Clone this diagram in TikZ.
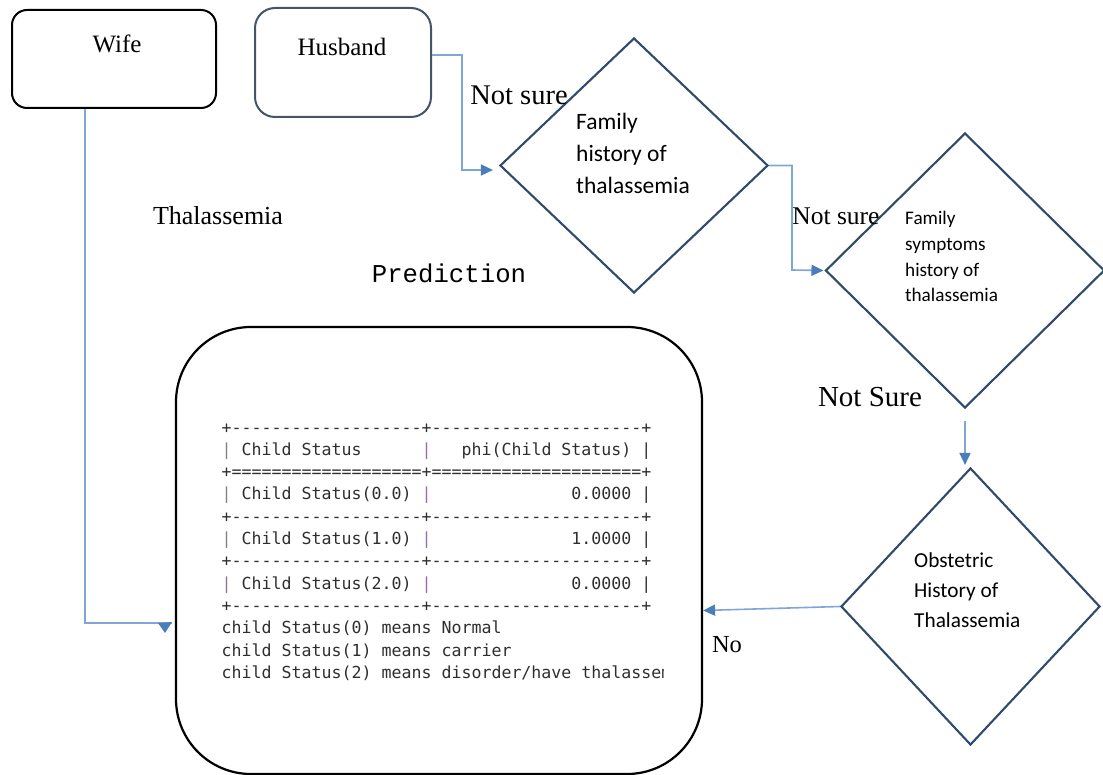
\documentclass[tikz,border=0pt]{standalone}
\usepackage{fontspec}
\setmainfont{Liberation Serif}
\setmonofont{DejaVu Sans Mono}
\newfontfamily\calfont{Carlito}
\newfontfamily\courfont{Liberation Mono}
\usetikzlibrary{shapes.geometric,arrows.meta}

\definecolor{linkblue}{HTML}{7FA6D8}
\definecolor{tipblue}{HTML}{4A7EBB}
\definecolor{slate}{HTML}{2F4A6B}
\definecolor{husbandline}{HTML}{44546A}
\definecolor{termtext}{HTML}{2E2E2E}
\definecolor{midpipe}{HTML}{9A6AAA}
\definecolor{edgepipe}{HTML}{857A8E}

% coloured column separators of the printed table
\newcommand\edgebar{\textcolor{edgepipe}{|}}
\newcommand\midbar{\textcolor{midpipe}{|}}

\begin{document}
\begin{tikzpicture}[x=1pt,y=-1pt,
  wifebox/.style={draw=black, rounded corners=15pt, line width=2pt,
    minimum width=204pt, minimum height=98pt, inner sep=0},
  husbox/.style={draw=husbandline, rounded corners=20pt, line width=2pt,
    minimum width=176pt, minimum height=109pt, inner sep=0},
  decision/.style={diamond, draw=slate, line width=2.1pt, inner sep=0},
  link/.style={draw=linkblue, line width=1.6pt},
  linktip/.style={-{Triangle[length=12pt,width=11pt,color=tipblue]}},
  serif/.style={inner sep=0, font=\fontsize{#1}{#1}\selectfont},
  calibri/.style={inner sep=0, anchor=north west, align=left, text=black},
  term/.style={inner sep=0, anchor=base west,
    font=\ttfamily\fontsize{16.6}{22}\selectfont, text=termtext},
]
\useasboundingbox (0,0) rectangle (1103,775);

% people
\node[wifebox] (wife) at (114,59) {};
\node[husbox] (hus) at (343,62.5) {};
\node[serif=25] (wifelbl) at (117,44) {Wife};
\node[serif=25] (huslbl) at (342,47) {Husband};

% decisions
\node[decision, minimum width=268pt, minimum height=255pt] (famhist) at (634,165.5) {};
\node[decision, minimum width=279pt, minimum height=275pt] (symhist) at (965,270.5) {};
\node[decision, minimum width=259pt, minimum height=277pt] (obst) at (970.5,606.5) {};

\node[calibri, font=\calfont\fontsize{23.5}{32}\selectfont] (famtxt) at (576,113)
  {Family\\history of\\thalassemia};
\node[calibri, font=\calfont\fontsize{19.2}{25.8}\selectfont] (symtxt) at (905,211)
  {Family\\symptoms\\history of\\thalassemia};
\node[calibri, font=\calfont\fontsize{21.3}{30}\selectfont] (obsttxt) at (914,553)
  {Obstetric\\History of\\Thalassemia};

% result box
\node[draw=black, line width=2.2pt, rounded corners=75pt, minimum width=526pt,
  minimum height=447pt, inner sep=0] (result) at (439,550.5) {};

% free labels
\node[serif=28.5] (notsure1) at (519,95) {Not sure};
\node[serif=25.5] (notsure2) at (836,216) {Not sure};
\node[serif=29] (notsure3) at (870,397) {Not Sure};
\node[serif=26] (thal) at (218,216) {Thalassemia};
\node[serif=24.5] (nolbl) at (727,645) {No};
\node[inner sep=0, font=\courfont\fontsize{25.7}{26}\selectfont] (pred) at (449,273) {Prediction};

% connectors
\coordinate (wifeend) at (172,623);
\draw[link] (wife.south -| 85,0) -- (85,623) -- (wifeend);
\fill[tipblue] ([xshift=-14pt]wifeend) -- ([yshift=1pt]wifeend) -- ([xshift=-7pt,yshift=-10pt]wifeend) -- cycle;

\draw[link, linktip] (hus.east |- 0,55) -| (462,170) -- ([xshift=-6pt]famhist.west |- 0,170);
\draw[link, linktip] (famhist.east) -| (792,270) -- ([xshift=-1pt]symhist.west);
\draw[link, linktip] ([yshift=-12pt]symhist.south) -- ([yshift=2pt]symhist.south |- obst.north);
\draw[link, linktip] (obst.west) -- ([yshift=-4pt]result.east |- obst.west);

% printed probability table
\begin{scope}
\clip (result.north west) rectangle (663,775);
\foreach \row [count=\i from 0] in {
  {+-------------------+---------------------+},
  {\edgebar~Child~Status~~~~~~\midbar~~~phi(Child~Status)~|},
  {+===================+=====================+},
  {\edgebar~Child~Status(0.0)~\midbar~~~~~~~~~~~~~~0.0000~|},
  {+-------------------+---------------------+},
  {\edgebar~Child~Status(1.0)~\midbar~~~~~~~~~~~~~~1.0000~|},
  {+-------------------+---------------------+},
  {\edgebar~Child~Status(2.0)~\midbar~~~~~~~~~~~~~~0.0000~|},
  {+-------------------+---------------------+},
  {child~Status(0)~means~Normal},
  {child~Status(1)~means~carrier},
  {child~Status(2)~means~disorder/have~thalassemia}}
  \node[term] (row\i) at (221.5,{433+22.3*\i}) {\row};
\end{scope}
\end{tikzpicture}
\end{document}
